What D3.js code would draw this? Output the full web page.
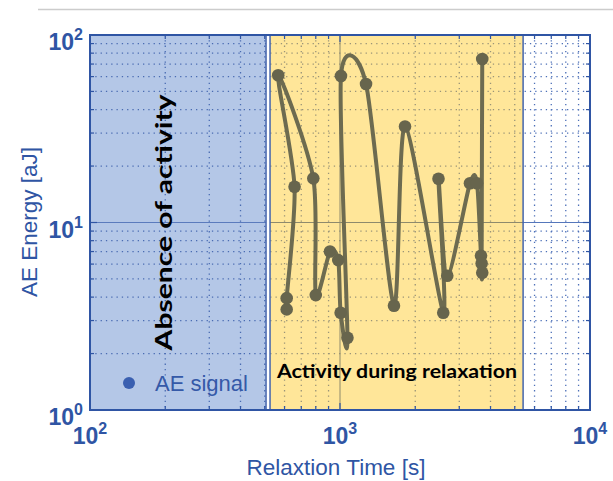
<!DOCTYPE html>
<html>
<head>
<meta charset="utf-8">
<script src="https://cdn.jsdelivr.net/npm/d3@7"></script>
<style>
  html, body { margin: 0; padding: 0; background: #fff; }
  svg { display: block; }
</style>
</head>
<body>
<svg id="chart"></svg>
<script>
// AE events, listed in the order the curve runs through them
const relaxTime = [612, 612, 658, 566, 782, 800, 912, 984, 1006, 1071, 1009, 1271, 1644, 1820,
                   2588, 2477, 2686, 3311, 3532, 3664, 3707, 3686, 3707];
const aeEnergy  = [3.44, 3.95, 15.5, 61, 17.2, 4.1, 7.0, 6.3, 3.3, 2.43, 60.5, 54.8, 3.6, 32.5,
                   3.3, 17.1, 5.2, 16.2, 16.2, 6.65, 5.4, 6.05, 74.5];

// shaded phases
const regionNames = ["Absence of activity", "Activity during relaxation"];
const regionStart = [100, 525];
const regionEnd   = [506, 5400];

const xTicks = [100, 1000, 10000];
const yTicks = [1, 10, 100];
const xExp = ["2", "3", "4"];
const yExp = ["0", "1", "2"];

const legendLabel = "AE signal";
const xTitle = "Relaxtion Time [s]";
const yTitle = "AE Energy [aJ]";

const width = 613, height = 481;
const L = 90, R = 590, T = 35, B = 410;
const blue = "#2f55a4";

const svg = d3.select("#chart").attr("width", width).attr("height", height);

const x = d3.scaleLog().domain([100, 10000]).range([L, R]);
const y = d3.scaleLog().domain([1, 100]).range([B, T]);

// minor values for grid
const minorX = [], minorY = [];
[100, 1000].forEach(d => { for (let k = 2; k <= 9; k++) minorX.push(d * k); });
[1, 10].forEach(d => { for (let k = 2; k <= 9; k++) minorY.push(d * k); });

// thin grey rule across the top of the image
svg.append("line").attr("x1", 38).attr("x2", width).attr("y1", 9.5).attr("y2", 9.5)
    .attr("stroke", "#cccccc").attr("stroke-width", 1.5);

// regions
const fills = ["#b4c7e7", "#ffe699"];
svg.selectAll("rect.region")
    .data(regionNames)
    .enter().append("rect")
    .attr("class", "region")
    .attr("x", (d, i) => x(regionStart[i]))
    .attr("y", T)
    .attr("width", (d, i) => x(regionEnd[i]) - x(regionStart[i]))
    .attr("height", B - T)
    .attr("fill", (d, i) => fills[i]);

// grid, drawn once per zone so the dots pick up the zone's tint
const zones = [
    {x0: L, x1: x(regionEnd[0]), dot: "#4a6cb2", major: "#5b7bbd"},
    {x0: x(regionStart[1]), x1: x(regionEnd[1]), dot: "#9a9478", major: "#8e8a6c"},
    {x0: x(regionEnd[1]), x1: R, dot: "#4d70b8", major: "#5577bb"}
];
const defs = svg.append("defs");
zones.forEach((z, i) => {
    defs.append("clipPath").attr("id", "zone" + i)
        .append("rect").attr("x", z.x0).attr("y", T).attr("width", z.x1 - z.x0).attr("height", B - T);
    const g = svg.append("g").attr("clip-path", "url(#zone" + i + ")");
    g.selectAll("line.vx").data(minorX).enter().append("line")
        .attr("x1", d => x(d)).attr("x2", d => x(d)).attr("y1", T).attr("y2", B)
        .attr("stroke", z.dot).attr("stroke-width", 1.3).attr("stroke-dasharray", "1.3,4");
    g.selectAll("line.hy").data(minorY).enter().append("line")
        .attr("y1", d => y(d)).attr("y2", d => y(d)).attr("x1", L).attr("x2", R)
        .attr("stroke", z.dot).attr("stroke-width", 1.3).attr("stroke-dasharray", "1.3,4");
    g.append("line").attr("x1", x(1000)).attr("x2", x(1000)).attr("y1", T).attr("y2", B)
        .attr("stroke", z.major).attr("stroke-width", 1);
    g.append("line").attr("y1", y(10)).attr("y2", y(10)).attr("x1", L).attr("x2", R)
        .attr("stroke", z.major).attr("stroke-width", 1);
});

// region outlines
svg.selectAll("rect.outline")
    .data(regionNames)
    .enter().append("rect")
    .attr("x", (d, i) => x(regionStart[i]))
    .attr("y", T)
    .attr("width", (d, i) => x(regionEnd[i]) - x(regionStart[i]))
    .attr("height", B - T)
    .attr("fill", "none").attr("stroke", "#4565ad").attr("stroke-width", 1.5);

// inner ticks on all four sides
const tickG = svg.append("g").attr("stroke", blue).attr("stroke-width", 1.2);
const allX = minorX.concat([1000]), allY = minorY.concat([10]);
allX.forEach(d => {
    const len = d === 1000 ? 7 : 4;
    tickG.append("line").attr("x1", x(d)).attr("x2", x(d)).attr("y1", B).attr("y2", B - len);
    tickG.append("line").attr("x1", x(d)).attr("x2", x(d)).attr("y1", T).attr("y2", T + len);
});
allY.forEach(d => {
    const len = d === 10 ? 7 : 4;
    tickG.append("line").attr("y1", y(d)).attr("y2", y(d)).attr("x1", L).attr("x2", L + len);
    tickG.append("line").attr("y1", y(d)).attr("y2", y(d)).attr("x1", R).attr("x2", R - len);
});

// frame
svg.append("rect").attr("x", L).attr("y", T).attr("width", R - L).attr("height", B - T)
    .attr("fill", "none").attr("stroke", blue).attr("stroke-width", 2);

// data curve and markers
const pts = relaxTime.map((t, i) => [x(t), y(aeEnergy[i])]);
const line = d3.line().curve(d3.curveCardinal.tension(0.2));
svg.append("path")
    .attr("d", line(pts))
    .attr("fill", "none")
    .attr("stroke", "#6d6b50")
    .attr("stroke-width", 4)
    .attr("stroke-linejoin", "round");
svg.selectAll("circle.pt")
    .data(pts)
    .enter().append("circle")
    .attr("cx", d => d[0]).attr("cy", d => d[1]).attr("r", 6.3)
    .attr("fill", "#67654d");

// region labels
svg.append("text")
    .attr("transform", "translate(172," + (T + B) / 2 + ") rotate(-90)")
    .attr("text-anchor", "middle")
    .attr("font-family", "Lato, 'Open Sans', sans-serif")
    .attr("font-weight", "bold").attr("font-size", 23)
    .attr("textLength", 256).attr("lengthAdjust", "spacingAndGlyphs")
    .text(regionNames[0]);
svg.append("text")
    .attr("x", 277).attr("y", 378)
    .attr("font-family", "Lato, 'Open Sans', sans-serif")
    .attr("font-weight", "bold").attr("font-size", 18)
    .attr("textLength", 240).attr("lengthAdjust", "spacingAndGlyphs")
    .text(regionNames[1]);

// legend
svg.append("circle").attr("cx", 129).attr("cy", 383).attr("r", 6).attr("fill", "#3a5fb0");
svg.append("text").attr("x", 155).attr("y", 391)
    .attr("font-family", "'Liberation Sans', Arial, sans-serif").attr("font-size", 22)
    .attr("fill", "#3559a8").text(legendLabel);

// tick labels with superscript exponents
const labFont = "'Liberation Sans', Arial, sans-serif";
xTicks.forEach((v, i) => {
    const t = svg.append("text").attr("x", x(v)).attr("y", 444).attr("text-anchor", "middle")
        .attr("font-family", labFont).attr("font-weight", "bold").attr("fill", blue);
    t.append("tspan").attr("font-size", 23).text("10");
    t.append("tspan").attr("font-size", 16).attr("dy", -10).text(xExp[i]);
});
yTicks.forEach((v, i) => {
    const t = svg.append("text").attr("x", 83).attr("y", y(v) + 15).attr("text-anchor", "end")
        .attr("font-family", labFont).attr("font-weight", "bold").attr("fill", blue);
    t.append("tspan").attr("font-size", 23).text("10");
    t.append("tspan").attr("font-size", 16).attr("dy", -10).text(yExp[i]);
});

// axis titles
svg.append("text").attr("x", 336).attr("y", 475).attr("text-anchor", "middle")
    .attr("font-family", labFont).attr("font-size", 22.5).attr("fill", blue).text(xTitle);
svg.append("text").attr("transform", "translate(37,222) rotate(-90)").attr("text-anchor", "middle")
    .attr("font-family", labFont).attr("font-size", 22.5).attr("fill", blue).text(yTitle);
</script>
</body>
</html>
